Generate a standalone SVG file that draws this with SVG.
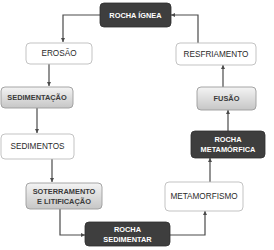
<svg xmlns="http://www.w3.org/2000/svg" width="274" height="250" viewBox="0 0 274 250">
<defs>
<linearGradient id="g" x1="0" y1="0" x2="0" y2="1">
<stop offset="0" stop-color="#f4f4f4"/>
<stop offset="1" stop-color="#c6c6c6"/>
</linearGradient>
<marker id="a" viewBox="0 0 6 6" refX="6" refY="3" markerWidth="4" markerHeight="4" orient="auto" markerUnits="userSpaceOnUse">
<path d="M0,0 L6,3 L0,6 Z" fill="#4a4a4a"/>
</marker>
<style>
.dark rect{fill:#3e3e3e;stroke:#2e2e2e;stroke-width:0.8}
.dark text{fill:#fff;font-weight:bold;font-size:7.4px}
.white rect{fill:#fff;stroke:#bcbcbc;stroke-width:0.9}
.white text{fill:#2a2a2a;font-size:8.2px}
.gray rect{fill:url(#g);stroke:#9c9c9c;stroke-width:0.9}
.gray text{fill:#3a3a3a;font-weight:bold;font-size:7.4px}
text{font-family:"Liberation Sans",Arial,sans-serif;text-anchor:middle;dominant-baseline:central}
#connectors path{fill:none;stroke:#4a4a4a;stroke-width:1.2;marker-end:url(#a)}
</style>
</defs>
<rect width="274" height="250" fill="#fff"/>
<g id="connectors">
<path d="M100,15 H63 V42"/>
<path d="M49,64 V86"/>
<path d="M37,108 V133"/>
<path d="M52,159 V182"/>
<path d="M60,209 V235 H85"/>
<path d="M170,235 H205 V211"/>
<path d="M210,182 V158"/>
<path d="M228,131 V110"/>
<path d="M223,87 V65"/>
<path d="M198,43 V15 H171"/>
</g>
<g id="rocha-ignea" class="dark"><rect x="100" y="3" width="71" height="24" rx="4"/><text x="135.5" y="15">ROCHA ÍGNEA</text></g>
<g id="erosao" class="white"><rect x="26" y="43" width="66" height="21" rx="4"/><text x="59" y="53.5">EROSÃO</text></g>
<g id="resfriamento" class="white"><rect x="176" y="43" width="80" height="22" rx="4"/><text x="216" y="54">RESFRIAMENTO</text></g>
<g id="sedimentacao" class="gray"><rect x="1" y="87" width="72" height="21" rx="4"/><text x="37" y="97.5">SEDIMENTAÇÃO</text></g>
<g id="fusao" class="gray"><rect x="197" y="87" width="59" height="23" rx="4"/><text x="226.5" y="98.5">FUSÃO</text></g>
<g id="sedimentos" class="white"><rect x="1" y="134" width="73" height="25" rx="4"/><text x="37.5" y="146.5">SEDIMENTOS</text></g>
<g id="rocha-metamorfica" class="dark"><rect x="191" y="131" width="74" height="27" rx="4"/><text x="228" y="139.5">ROCHA</text><text x="228" y="149.5">METAMÓRFICA</text></g>
<g id="soterramento" class="gray"><rect x="26" y="183" width="76" height="26" rx="4"/><text x="64" y="191.5">SOTERRAMENTO</text><text x="64" y="201.5">E LITIFICAÇÃO</text></g>
<g id="metamorfismo" class="white"><rect x="165" y="182" width="78" height="29" rx="4"/><text x="204" y="196.5">METAMORFISMO</text></g>
<g id="rocha-sedimentar" class="dark"><rect x="85" y="222" width="85" height="24" rx="4"/><text x="127.5" y="229.5">ROCHA</text><text x="127.5" y="239.5">SEDIMENTAR</text></g>
</svg>
